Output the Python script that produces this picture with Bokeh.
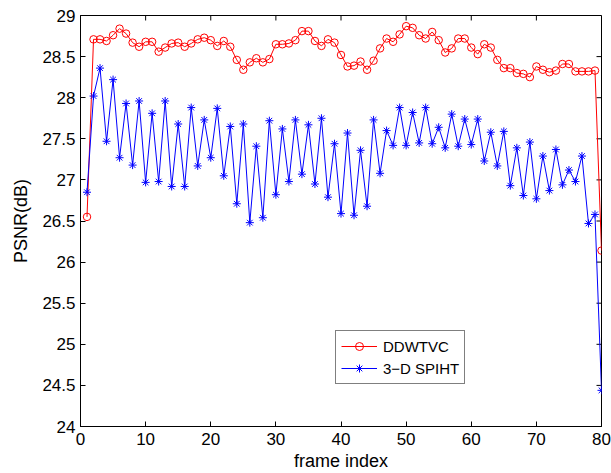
from bokeh.plotting import figure
from bokeh.models import FixedTicker, Range1d, Legend, LegendItem
from bokeh.embed import file_html
from bokeh.resources import INLINE

frames = list(range(1, 81))

ddwtvc = [26.55, 28.71, 28.71, 28.69, 28.76, 28.84, 28.78, 28.67, 28.62, 28.68,
          28.68, 28.56, 28.61, 28.66, 28.67, 28.62, 28.66, 28.71, 28.73, 28.70,
          28.63, 28.69, 28.62, 28.46, 28.34, 28.43, 28.48, 28.43, 28.47, 28.65,
          28.65, 28.66, 28.70, 28.81, 28.81, 28.69, 28.63, 28.71, 28.67, 28.52,
          28.38, 28.39, 28.44, 28.34, 28.45, 28.60, 28.72, 28.68, 28.77, 28.87,
          28.85, 28.76, 28.72, 28.80, 28.70, 28.55, 28.60, 28.72, 28.72, 28.61,
          28.53, 28.65, 28.61, 28.46, 28.36, 28.36, 28.30, 28.29, 28.25, 28.38,
          28.34, 28.31, 28.33, 28.41, 28.41, 28.32, 28.32, 28.32, 28.33, 26.14]

spiht3d = [26.85, 28.02, 28.36, 27.47, 28.22, 27.27, 27.93, 27.18, 27.96, 26.97,
           27.81, 26.98, 27.96, 26.92, 27.68, 26.92, 27.88, 27.17, 27.73, 27.27,
           27.87, 27.05, 27.65, 26.71, 27.68, 26.48, 27.41, 26.54, 27.72, 26.82,
           27.62, 26.98, 27.73, 27.07, 27.67, 26.95, 27.75, 26.79, 27.44, 26.59,
           27.57, 26.57, 27.36, 26.68, 27.73, 27.08, 27.60, 27.42, 27.88, 27.42,
           27.82, 27.45, 27.88, 27.44, 27.64, 27.39, 27.80, 27.41, 27.74, 27.43,
           27.74, 27.23, 27.58, 27.17, 27.59, 26.93, 27.39, 26.81, 27.46, 26.77,
           27.29, 26.87, 27.37, 26.94, 27.12, 26.98, 27.29, 26.47, 26.58, 24.44]

x_ticks = [0, 10, 20, 30, 40, 50, 60, 70, 80]
y_ticks = [24, 24.5, 25, 25.5, 26, 26.5, 27, 27.5, 28, 28.5, 29]
y_tick_labels = ["24", "24.5", "25", "25.5", "26", "26.5", "27", "27.5", "28", "28.5", "29"]

FONT = "Liberation Sans"
X0, X1, Y0, Y1 = 0, 80, 24, 29

p = figure(width=611, height=473, output_backend="svg", toolbar_location=None,
           x_range=Range1d(X0, X1), y_range=Range1d(Y0, Y1),
           min_border_left=80, min_border_right=10, min_border_top=15, min_border_bottom=46,
           x_axis_label="frame index", y_axis_label="PSNR(dB)")
p.xgrid.visible = False
p.ygrid.visible = False
p.outline_line_color = "black"
p.outline_line_width = 1
p.outline_line_alpha = 1

for ax in p.xaxis + p.yaxis:
    ax.major_tick_in = 5
    ax.major_tick_out = 0
    ax.minor_tick_line_color = None
    ax.axis_line_color = "black"
    ax.major_tick_line_color = "black"
    ax.major_label_text_font = FONT
    ax.major_label_text_font_size = "17px"
    ax.major_label_text_color = "black"
    ax.axis_label_text_font = FONT
    ax.axis_label_text_font_size = "18px"
    ax.axis_label_text_font_style = "normal"
    ax.axis_label_text_color = "black"

p.xaxis.ticker = FixedTicker(ticks=x_ticks)
p.yaxis.ticker = FixedTicker(ticks=y_ticks)
p.yaxis.major_label_overrides = {t: l for t, l in zip(y_ticks, y_tick_labels)}
p.xaxis.major_label_standoff = 6
p.xaxis.axis_label_standoff = 3
p.yaxis.major_label_standoff = 5
p.yaxis.axis_label_standoff = 8

# inward ticks on the top and right edges of the box (5 px long)
frame_w, frame_h = 611 - 80 - 10, 473 - 15 - 46
dy = 5 * (Y1 - Y0) / frame_h
dx = 5 * (X1 - X0) / frame_w
p.segment(x0=x_ticks, y0=[Y1] * len(x_ticks), x1=x_ticks, y1=[Y1 - dy] * len(x_ticks),
          line_color="black", line_width=1)
p.segment(x0=[X1] * len(y_ticks), y0=y_ticks, x1=[X1 - dx] * len(y_ticks), y1=y_ticks,
          line_color="black", line_width=1)

r1 = p.line(frames, ddwtvc, line_color="#ff0000", line_width=1)
s1 = p.scatter(frames, ddwtvc, marker="circle", size=7.5, fill_color=None,
               line_color="#ff0000", line_width=1)
r2 = p.line(frames, spiht3d, line_color="#0000ff", line_width=1)
s2 = p.scatter(frames, spiht3d, marker="asterisk", size=8,
               line_color="#0000ff", line_width=1)

legend = Legend(items=[LegendItem(label="DDWTVC", renderers=[r1, s1]),
                       LegendItem(label="3\u2212D SPIHT", renderers=[r2, s2])],
                location=(255, 42))
legend.label_text_font = FONT
legend.label_text_font_size = "15px"
legend.label_text_color = "black"
legend.border_line_color = "black"
legend.border_line_width = 1
legend.glyph_width = 36
legend.glyph_height = 20
legend.label_height = 20
legend.spacing = 2
legend.padding = 5
legend.margin = 0
legend.label_standoff = 6
p.add_layout(legend, "center")

open("out.html", "w").write(file_html(p, INLINE))
